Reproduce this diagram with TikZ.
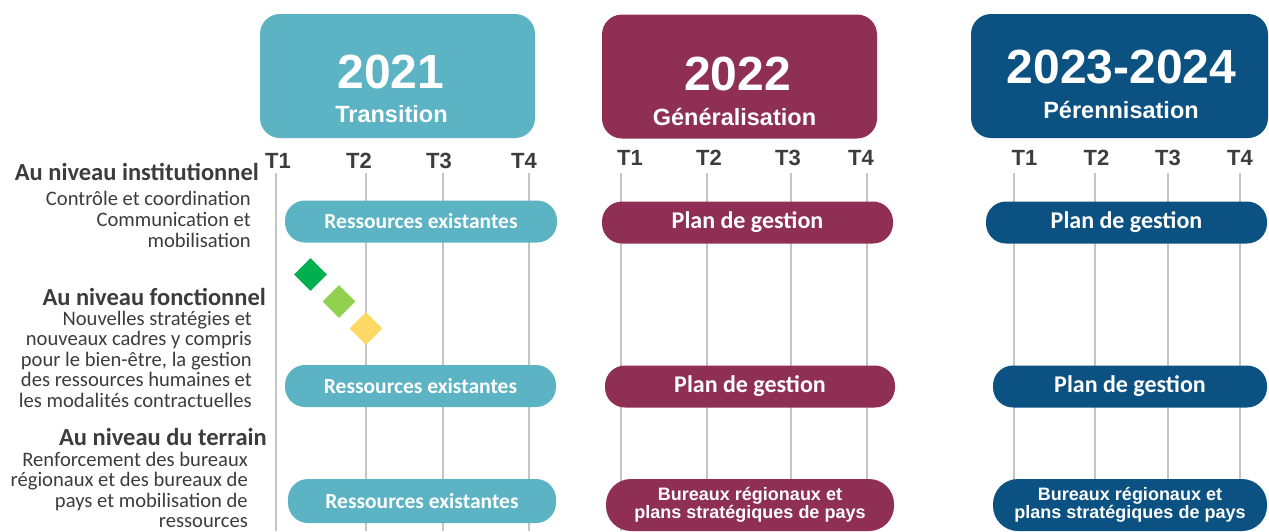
\documentclass[tikz,border=0pt]{standalone}
\usepackage{fontspec}
\setmainfont{Carlito}
\newfontfamily\arialfont{Liberation Sans}
\usetikzlibrary{shapes.geometric}

\definecolor{tealyear}{HTML}{5BB3C3}
\definecolor{wineyear}{HTML}{8E2F53}
\definecolor{navyyear}{HTML}{0B5283}
\definecolor{gridgray}{HTML}{C4C4C4}
\definecolor{labelgray}{HTML}{3C3C3C}
\definecolor{diagreen}{HTML}{00B050}
\definecolor{dialime}{HTML}{92D050}
\definecolor{diayellow}{HTML}{FFD966}

\begin{document}
\begin{tikzpicture}[x=1pt, y=-1pt,
	  yearbox/.style={rectangle, rounded corners=20pt, minimum height=124pt, inner sep=0pt},
	  yearnum/.style={anchor=base, text=white, font=\arialfont\bfseries\fontsize{48}{50}\selectfont},
	  yearsub/.style={anchor=base, text=white, font=\arialfont\bfseries\fontsize{23.5}{26}\selectfont},
	  quarter/.style={anchor=base, text=labelgray, font=\arialfont\bfseries\fontsize{22}{24}\selectfont},
	  pill/.style={rectangle, rounded corners=20pt, minimum height=42pt, inner sep=0pt, text=white, font=\bfseries\fontsize{21.5}{23}\selectfont},
	  planpill/.style={pill, font=\bfseries\fontsize{24}{26}\selectfont},
	  pilltwo/.style={rectangle, rounded corners=25pt, minimum height=52pt, inner sep=0pt, text=white, align=center, font=\arialfont\bfseries\fontsize{18}{17.5}\selectfont},
	  levelhead/.style={anchor=base east, text=labelgray, inner sep=0pt, font=\bfseries\fontsize{24.5}{26}\selectfont},
	  levelbody/.style={anchor=base east, text=labelgray, inner sep=0pt, font=\fontsize{20.6}{21}\selectfont},
	  marker/.style={diamond, minimum size=33pt, inner sep=0pt}]
	  \useasboundingbox (0,0) rectangle (1269,531);

	  % grid of quarters
	  \foreach \x in {276,366,443,529,621,707,791,867,1014,1095,1168,1240} {
	    \draw[gridgray, line width=2pt] (\x,173) -- (\x,531);
	  }

	  % years
	  \node[yearbox, fill=tealyear, minimum width=275pt] (box21) at (397.5,76) {};
	  \node[yearbox, fill=wineyear, minimum width=275pt] (box22) at (739.5,76.5) {};
	  \node[yearbox, fill=navyyear, minimum width=297pt] (box23) at (1119.5,76) {};

	  \node[yearnum] (num21) at (391,88) {2021};
	  \node[yearsub] (sub21) at (391.5,122) {Transition};
	  \node[yearnum] (num22) at (737.5,90) {2022};
	  \node[yearsub] (sub22) at (734.5,125) {Généralisation};
	  \node[yearnum] (num23) at (1121.5,83) {2023-2024};
	  \node[yearsub] (sub23) at (1121,118) {Pérennisation};

	  \foreach \x/\q in {278/1,359/2,439/3,524/4} {
	    \node[quarter] (qa\q) at (\x,168) {T\q};
	  }
	  \foreach \x/\q in {630/1,709/2,788/3,861/4} {
	    \node[quarter] (qb\q) at (\x,165) {T\q};
	  }
	  \foreach \x/\q in {1024.5/1,1096.5/2,1168/3,1240/4} {
	    \node[quarter] (qc\q) at (\x,165) {T\q};
	  }

	  % levels
	  \node[levelhead] (inst) at (259,180) {Au niveau institutionnel};
	  \foreach \t [count=\i] in {Contrôle et coordination, Communication et, mobilisation} {
	    \node[levelbody] (inst\i) at (251,205+21*\i-21) {\t};
	  }
	  \node[levelhead] (fonc) at (266,305) {Au niveau fonctionnel};
	  \foreach \t [count=\i] in {Nouvelles stratégies et, nouveaux cadres y compris, {pour le bien-être, la gestion}, des ressources humaines et, les modalités contractuelles} {
	    \node[levelbody] (fonc\i) at (252,325+20.5*\i-20.5) {\t};
	  }
	  \node[levelhead] (terr) at (267,445) {Au niveau du terrain};
	  \foreach \t [count=\i] in {Renforcement des bureaux, régionaux et des bureaux de, pays et mobilisation de, ressources} {
	    \node[levelbody] (terr\i) at (248,466+20.5*\i-20.5) {\t};
	  }

	  % bars
	  \node[pill, fill=tealyear, minimum width=272pt] (res1) at (421,221.5) {Ressources existantes};
	  \node[planpill, fill=wineyear, minimum width=291pt] (plan1) at (747.5,222.5) {Plan de gestion};
	  \node[planpill, fill=navyyear, minimum width=281pt] (pere1) at (1126.5,222.5) {Plan de gestion};

	  \node[pill, fill=tealyear, minimum width=271pt] (res2) at (420.5,386) {Ressources existantes};
	  \node[planpill, fill=wineyear, minimum width=290pt] (plan2) at (750,386.5) {Plan de gestion};
	  \node[planpill, fill=navyyear, minimum width=274pt] (pere2) at (1130,386.5) {Plan de gestion};

	  \node[pill, fill=tealyear, minimum width=268pt, minimum height=44pt] (res3) at (422,501) {Ressources existantes};
	  \node[pilltwo, fill=wineyear, minimum width=288pt] (plan3) at (750,505) {Bureaux régionaux et\\plans stratégiques de pays};
	  \node[pilltwo, fill=navyyear, minimum width=274pt] (pere3) at (1130,505) {Bureaux régionaux et\\plans stratégiques de pays};

	  % markers
	  \node[marker, fill=diagreen] (mk1) at (310.5,274.5) {};
	  \node[marker, fill=dialime] (mk2) at (339,301.5) {};
	  \node[marker, fill=diayellow] (mk3) at (366,328.5) {};
	\end{tikzpicture}
\end{document}
